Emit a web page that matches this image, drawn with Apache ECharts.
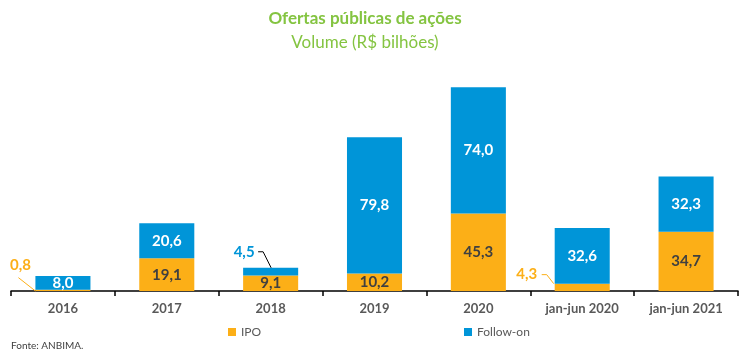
<!DOCTYPE html>
<html>
<head>
<meta charset="utf-8">
<script src="https://cdn.jsdelivr.net/npm/echarts@6/dist/echarts.min.js"></script>
<style>html,body{margin:0;padding:0;background:#fff}#c{width:750px;height:355px}</style>
</head>
<body>
<div id="c"></div>
<script>
var categories = ['2016', '2017', '2018', '2019', '2020', 'jan-jun 2020', 'jan-jun 2021'];
var ipoValues = [0.8, 19.1, 9.1, 10.2, 45.3, 4.3, 34.7];
var followOnValues = [8.0, 20.6, 4.5, 79.8, 74.0, 32.6, 32.3];

var ORANGE = '#FCAF17', BLUE = '#0095D8', GREEN = '#84C441', DARK = '#404040';
var FONT = 'Lato, "Open Sans", sans-serif';
var BAR_RATIO = 0.53;

function fmt(v) { return v.toFixed(1).replace('.', ','); }

var outsideIpo = {0: true, 5: true};
var outsideFo = {2: true};

var ipoData = ipoValues.map(function (v, i) {
  var d = {value: v};
  if (outsideIpo[i]) d.label = {color: ORANGE, fontWeight: 'bold'};
  return d;
});
var foData = followOnValues.map(function (v, i) {
  var d = {value: v};
  if (outsideFo[i]) d.label = {color: BLUE, fontWeight: 'bold'};
  return d;
});

function layout(params) {
  var r = params.rect;
  if (params.seriesIndex === 0 && params.dataIndex === 0) {
    return {x: r.x - 15, y: r.y - 24, align: 'center', verticalAlign: 'middle'};
  }
  if (params.seriesIndex === 0 && params.dataIndex === 5) {
    return {x: r.x - 28, y: r.y - 9, align: 'center', verticalAlign: 'middle'};
  }
  if (params.seriesIndex === 1 && params.dataIndex === 2) {
    return {x: r.x + 1, y: r.y - 16, align: 'center', verticalAlign: 'middle'};
  }
  return {};
}

var option = {
  animation: false,
  textStyle: {fontFamily: FONT},
  title: [
    {text: 'Ofertas públicas de ações', left: 360, top: 5, textAlign: 'center',
     textStyle: {color: GREEN, fontSize: 17, fontWeight: 'bold', fontFamily: FONT}},
    {text: 'Volume (R$ bilhões)', left: 360, top: 29, textAlign: 'center',
     textStyle: {color: GREEN, fontSize: 17, fontWeight: 'normal', fontFamily: FONT}},
    {text: 'Fonte: ANBIMA.', left: 6, top: 336,
     textStyle: {color: DARK, fontSize: 10, fontWeight: 'normal', fontFamily: FONT}}
  ],
  legend: [
    {data: ['IPO'], left: 223, top: 321, itemWidth: 8, itemHeight: 8, itemGap: 5,
     icon: 'rect', textStyle: {color: '#595959', fontSize: 12, fontFamily: FONT}},
    {data: ['Follow-on'], left: 459, top: 321, itemWidth: 8, itemHeight: 8, itemGap: 5,
     icon: 'rect', textStyle: {color: '#595959', fontSize: 12, fontFamily: FONT}}
  ],
  grid: {left: 11, right: 12, top: 86, bottom: 64, containLabel: false},
  xAxis: {
    type: 'category', data: categories,
    axisLine: {lineStyle: {color: '#000', width: 1.5}},
    axisTick: {show: true, length: 5, alignWithLabel: false, lineStyle: {color: '#000', width: 1.5}},
    axisLabel: {color: '#595959', fontWeight: 'bold', fontSize: 13, margin: 11, fontFamily: FONT}
  },
  yAxis: {type: 'value', min: 0, max: 120, show: false, splitLine: {show: false}},
  series: [
    {name: 'IPO', type: 'bar', stack: 'total', barWidth: (BAR_RATIO * 100) + '%', data: ipoData,
     itemStyle: {color: ORANGE},
     label: {show: true, position: 'inside', color: DARK, fontWeight: 'bold', fontSize: 15,
             fontFamily: FONT, formatter: function (p) { return fmt(p.value); }},
     labelLayout: layout},
    {name: 'Follow-on', type: 'bar', stack: 'total', barWidth: (BAR_RATIO * 100) + '%', data: foData,
     itemStyle: {color: BLUE},
     label: {show: true, position: 'inside', color: '#fff', fontWeight: 'bold', fontSize: 15,
             fontFamily: FONT, formatter: function (p) { return fmt(p.value); }},
     labelLayout: layout}
  ]
};

var chart = echarts.init(document.getElementById('c'));
chart.setOption(option);

// leader lines for the small segments, positioned through the chart's own scales
var bandW = chart.getModel().getComponent('xAxis', 0).axis.getBandWidth();
var hw = bandW * BAR_RATIO / 2;
function px(i, v) { return chart.convertToPixel({gridIndex: 0}, [i, v]); }

var lines = [];
(function () {
  var base = px(0, 0), top = px(0, ipoValues[0]);
  var rx = base[0] - hw;
  lines.push({pts: [[rx - 17, top[1] - 12], [rx, base[1]]], color: ORANGE});
})();
(function () {
  var top = px(2, ipoValues[2] + followOnValues[2]);
  var rx = top[0] - hw, ry = top[1];
  lines.push({pts: [[rx + 15, ry - 16], [rx + 20, ry - 16], [rx + 28, ry]], color: '#000'});
})();
(function () {
  var top = px(5, ipoValues[5]);
  var rx = top[0] - hw, ry = top[1];
  lines.push({pts: [[rx - 13, ry - 9], [rx - 8, ry - 9], [rx - 1, ry]], color: ORANGE});
})();

chart.setOption({
  graphic: lines.map(function (l) {
    return {type: 'polyline', shape: {points: l.pts}, style: {stroke: l.color, lineWidth: 1, fill: null}, z: 10};
  })
});
</script>
</body>
</html>
